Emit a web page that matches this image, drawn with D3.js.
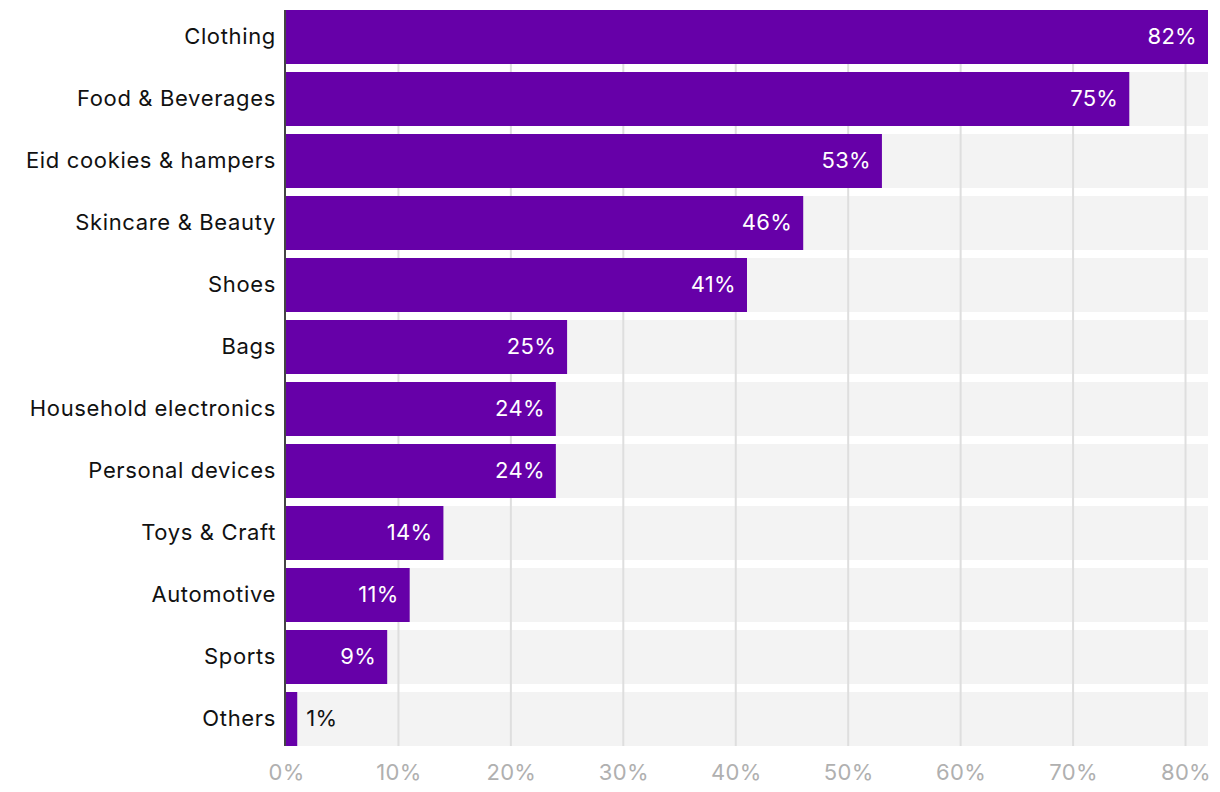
<!DOCTYPE html>
<html><head><meta charset="utf-8">
<script src="https://cdn.jsdelivr.net/npm/d3@7"></script>
<style>
html,body{margin:0;padding:0;background:#fff;}
svg text{font-family:Inter, "Noto Sans", sans-serif;}
</style></head>
<body>
<svg id="c" width="1220" height="792"></svg>
<script>
const categories = ["Clothing","Food & Beverages","Eid cookies & hampers","Skincare & Beauty","Shoes","Bags","Household electronics","Personal devices","Toys & Craft","Automotive","Sports","Others"];
const values = [82,75,53,46,41,25,24,24,14,11,9,1];
const ticks = [0,10,20,30,40,50,60,70,80];

(function(){
const svg = d3.select("#c");
const mLeft = 286, mRight = 1208, mTop = 10, mBottom = 746;
const x = d3.scaleLinear().domain([0, 82]).range([mLeft, mRight]);
const y = d3.scaleBand().domain(categories).range([mTop, mBottom]).paddingInner(8/62).paddingOuter(0);
const bw = y.bandwidth();

svg.append("g").selectAll("rect").data(categories).join("rect")
  .attr("x", mLeft).attr("y", d => y(d)).attr("width", mRight - mLeft).attr("height", bw)
  .attr("fill", "#f3f3f3");

svg.append("g").selectAll("line").data(ticks.filter(t => t > 0)).join("line")
  .attr("x1", d => x(d)).attr("x2", d => x(d)).attr("y1", mTop).attr("y2", mBottom)
  .attr("stroke", "#dedede").attr("stroke-width", 2);

svg.append("g").selectAll("rect").data(categories).join("rect")
  .attr("x", x(0)).attr("y", d => y(d)).attr("width", (d,i) => x(values[i]) - x(0)).attr("height", bw)
  .attr("fill", "#6600a8");

svg.append("g").selectAll("text").data(categories).join("text")
  .attr("x", (d,i) => values[i] > 5 ? x(values[i]) - 11 : x(values[i]) + 9)
  .attr("y", d => y(d) + bw/2)
  .attr("dy", "0.32em")
  .attr("text-anchor", (d,i) => values[i] > 5 ? "end" : "start")
  .attr("fill", (d,i) => values[i] > 5 ? "#fff" : "#111")
  .attr("font-size", 22).style("letter-spacing", "0.3px")
  .text((d,i) => values[i] + "%");

svg.append("g").selectAll("text").data(categories).join("text")
  .attr("x", mLeft - 10).attr("y", d => y(d) + bw/2).attr("dy", "0.32em")
  .attr("text-anchor", "end").attr("fill", "#111").attr("font-size", 22)
  .style("letter-spacing", "0.65px")
  .text(d => d);

svg.append("line").attr("x1", mLeft - 1).attr("x2", mLeft - 1).attr("y1", mTop).attr("y2", mBottom)
  .attr("stroke", "#444").attr("stroke-width", 2);

const xAxis = d3.axisBottom(x).tickValues(ticks).tickFormat(d => d + "%").tickSize(0).tickPadding(0);
const ga = svg.append("g").attr("transform", `translate(0, ${mBottom + 18})`).call(xAxis);
ga.select(".domain").remove();
ga.selectAll("text").attr("font-size", 22).attr("fill", "#b0b0b0").attr("font-family", "Inter, sans-serif")
  .style("letter-spacing", "0.3px");
})();
</script>
</body></html>
